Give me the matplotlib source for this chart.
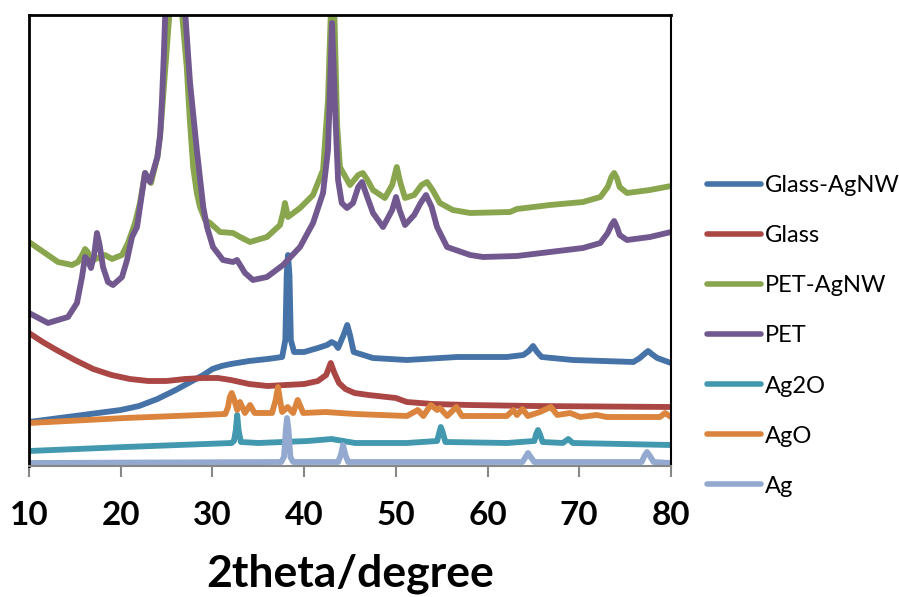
import matplotlib
matplotlib.use("Agg")
import matplotlib.pyplot as plt

# ---- data (2theta in degrees, intensity in arbitrary units) ----
glass_agnw_x = [10.0, 15.0, 20.0, 22.0, 24.0, 26.0, 28.0, 29.0, 30.0, 31.0, 32.0, 34.0, 36.0, 37.6,
                37.95, 38.1, 38.24, 38.4, 38.55, 38.9, 40.0, 41.5, 42.5, 43.0, 43.4, 43.7, 44.3, 44.7,
                45.0, 45.4, 47.5, 51.2, 56.7, 62.1, 63.9, 64.5, 64.96, 65.4, 65.9, 69.3, 75.9, 76.6,
                77.1, 77.5, 77.9, 78.5, 80.0]
glass_agnw_y = [43, 49, 55, 59, 66, 75, 85, 90, 96, 99, 101, 104, 106, 108,
                125, 190, 210, 190, 125, 113, 113, 117, 120, 123, 121, 117, 130, 140,
                130, 113, 107, 105, 108, 108, 110, 114, 119, 113, 108, 105, 103, 107,
                111, 114, 111, 107, 102]

glass_x = [10.0, 11.5, 13.0, 15.0, 17.0, 19.0, 21.0, 23.0, 25.0, 27.0, 29.0, 30.6, 32.0, 34.0, 36.0,
           38.0, 40.0, 41.5, 42.4, 42.9, 43.3, 43.8, 44.5, 45.5, 47.0, 49.0, 50.0, 51.2, 54.0, 58.0,
           65.0, 80.0]
glass_y = [132, 123, 115, 105, 96, 90, 86, 84, 84, 86, 87, 87, 85, 81, 79,
           80, 81, 84, 90, 102, 92, 82, 76, 72, 70, 68, 67, 63, 61, 60,
           59, 58]

pet_agnw_x = [10.0, 11.74, 13.16, 14.69, 15.34, 15.8, 16.11, 16.4, 16.65, 17.0, 18.29, 19.05, 20.14,
              20.8, 21.56, 22.1, 22.65, 23.3, 24.0, 24.3, 24.6, 25.3, 25.9, 26.7, 27.2, 27.5, 27.9,
              28.3, 28.65, 29.2, 29.74, 30.83, 32.24, 33.01, 34.1, 35.95, 37.37, 37.7, 37.91, 38.24,
              39.55, 40.97, 42.06, 42.6, 42.9, 43.1, 43.3, 43.6, 43.9, 45.0, 45.9, 46.4, 46.9, 47.5,
              48.8, 49.6, 50.1, 50.5, 51.0, 52.0, 52.8, 53.4, 54.0, 54.8, 56.2, 58.1, 62.45, 63.2,
              66.8, 70.4, 72.3, 73.1, 73.5, 73.8, 74.1, 74.4, 75.2, 77.7, 80.0]
pet_agnw_y = [223, 212, 203, 200, 203, 210, 216, 213, 207, 205, 210, 206, 210,
              222, 242, 262, 292, 282, 308, 330, 365, 450, 900, 450, 398, 350, 298,
              272, 258, 245, 242, 233, 232, 228, 223, 228, 240, 252, 262, 248,
              257, 270, 295, 365, 450, 480, 450, 340, 298, 280, 290, 292, 285, 275,
              267, 280, 298, 282, 267, 270, 280, 283, 275, 262, 255, 252, 253, 256,
              260, 263, 268, 278, 288, 292, 287, 278, 272, 275, 279]

pet_x = [10.0, 12.07, 14.25, 15.23, 15.78, 16.11, 16.4, 16.76, 17.1, 17.41, 17.7, 18.07, 18.61, 19.16,
         20.14, 20.69, 21.23, 21.78, 22.1, 22.65, 23.2, 24.0, 24.3, 24.5, 24.7, 24.85, 25.9, 27.05,
         27.56, 28.3, 29.0, 29.41, 30.06, 31.15, 32.24, 32.68, 33.55, 34.42, 35.95, 37.7, 39.55,
         40.97, 42.06, 42.6, 42.8, 43.04, 43.4, 43.7, 44.1, 44.67, 45.33, 45.9, 46.31, 46.8, 47.51,
         48.6, 49.6, 50.02, 50.4, 51.0, 52.0, 52.7, 53.29, 53.9, 54.49, 55.58, 58.1, 59.5, 63.2,
         66.8, 70.4, 72.3, 73.1, 73.5, 73.8, 74.1, 74.4, 75.2, 77.7, 80.0]
pet_y = [152, 142, 148, 162, 188, 208, 205, 197, 210, 232, 220, 198, 183, 180,
         188, 205, 228, 238, 258, 292, 283, 308, 330, 365, 410, 450, 900, 450,
         382, 315, 258, 238, 218, 205, 203, 205, 192, 185, 188, 200, 218,
         242, 272, 315, 370, 442, 350, 285, 262, 257, 262, 278, 283, 270, 252,
         238, 255, 268, 255, 240, 250, 262, 270, 258, 238, 218, 210, 208, 209,
         213, 217, 222, 232, 240, 244, 238, 230, 225, 228, 233]

ag2o_x = [10.0, 20.5, 32.1, 32.35, 32.55, 32.7, 32.85, 33.1, 35.0, 40.4, 43.0, 45.55, 51.2, 54.5,
          54.75, 54.9, 55.1, 55.4, 62.1, 65.1, 65.3, 65.5, 65.7, 66.0, 68.2, 68.8, 69.3, 80.0]
ag2o_y = [14, 18, 22, 24, 35, 50, 35, 23, 22, 24, 26, 22, 22, 24,
          33, 38, 33, 23, 22, 24, 31, 35, 31, 23, 22, 26, 22, 20]

ago_x = [10.0, 20.5, 31.4, 31.7, 31.9, 32.1, 32.35, 32.7, 33.0, 33.55, 34.1, 34.6, 36.5, 36.9, 37.15,
         37.35, 37.6, 38.2, 38.8, 39.3, 39.9, 42.3, 45.55, 51.2, 52.4, 53.0, 53.8, 54.5, 54.8, 55.6,
         56.6, 57.2, 62.1, 62.8, 63.2, 63.8, 64.4, 65.7, 66.9, 67.6, 69.0, 70.1, 71.9, 73.0, 78.8,
         79.35, 80.0]
ago_y = [42, 47, 51, 58, 68, 72, 66, 55, 63, 52, 60, 52, 52, 65, 78,
         66, 53, 58, 52, 65, 52, 53, 51, 49, 55, 49, 60, 55, 57, 49,
         58, 49, 49, 55, 50, 56, 49, 53, 58, 50, 52, 48, 50, 48, 48,
         52, 48]

ag_x = [10.0, 37.5, 37.8, 38.0, 38.13, 38.3, 38.5, 38.8, 43.7, 44.0, 44.24, 44.5, 44.8, 63.8, 64.15,
        64.41, 64.7, 65.1, 76.8, 77.1, 77.39, 77.7, 78.1, 80.0]
ag_y = [2, 3, 8, 35, 47, 35, 8, 3, 3, 10, 20, 10, 3, 3, 8,
        12, 8, 3, 3, 9, 13, 9, 3, 2]

labels = ["Glass-AgNW", "Glass", "PET-AgNW", "PET", "Ag2O", "AgO", "Ag"]
colors = ["#4572A7", "#AA4643", "#89A54E", "#71588F", "#4198AF", "#DB843D", "#93A9CF"]
xticks = [10, 20, 30, 40, 50, 60, 70, 80]

series = [(glass_agnw_x, glass_agnw_y), (glass_x, glass_y), (pet_agnw_x, pet_agnw_y),
          (pet_x, pet_y), (ag2o_x, ag2o_y), (ago_x, ago_y), (ag_x, ag_y)]

fig = plt.figure(figsize=(8.99, 5.97), dpi=100)
ax = fig.add_axes([29 / 899, 1 - 466 / 597, 642 / 899, 451 / 597])

for (xs, ys), lab, col in zip(series, labels, colors):
    ax.plot(xs, ys, color=col, lw=4.2, label=lab, solid_joinstyle="round", solid_capstyle="round")

ax.set_xlim(10, 80)
ax.set_ylim(-1, 450)
ax.set_xticks(xticks)
ax.set_xticklabels([str(t) for t in xticks], fontfamily="Lato", fontweight="bold", fontsize=24)
ax.set_yticks([])
ax.tick_params(axis="x", direction="out", length=8, width=1.5, color="#888888", pad=17)
for s in ["left", "top"]:
    ax.spines[s].set_linewidth(2)
    ax.spines[s].set_color("black")
ax.spines["right"].set_linewidth(1.5)
ax.spines["right"].set_color("black")
ax.spines["bottom"].set_linewidth(1.5)
ax.spines["bottom"].set_color("#888888")
ax.set_xlabel("2theta/degree", fontfamily="Lato", fontweight="bold", fontsize=32, labelpad=17)

leg = ax.legend(loc="center left", bbox_to_anchor=(695 / 899, 1 - 336 / 597),
                bbox_transform=fig.transFigure, frameon=False, prop={"family": "Lato", "size": 17},
                handlelength=2.3, handletextpad=0.15, labelspacing=1.23, borderpad=0)
for h in leg.get_lines():
    h.set_linewidth(4.0)

fig.savefig("out.png", dpi=100)
